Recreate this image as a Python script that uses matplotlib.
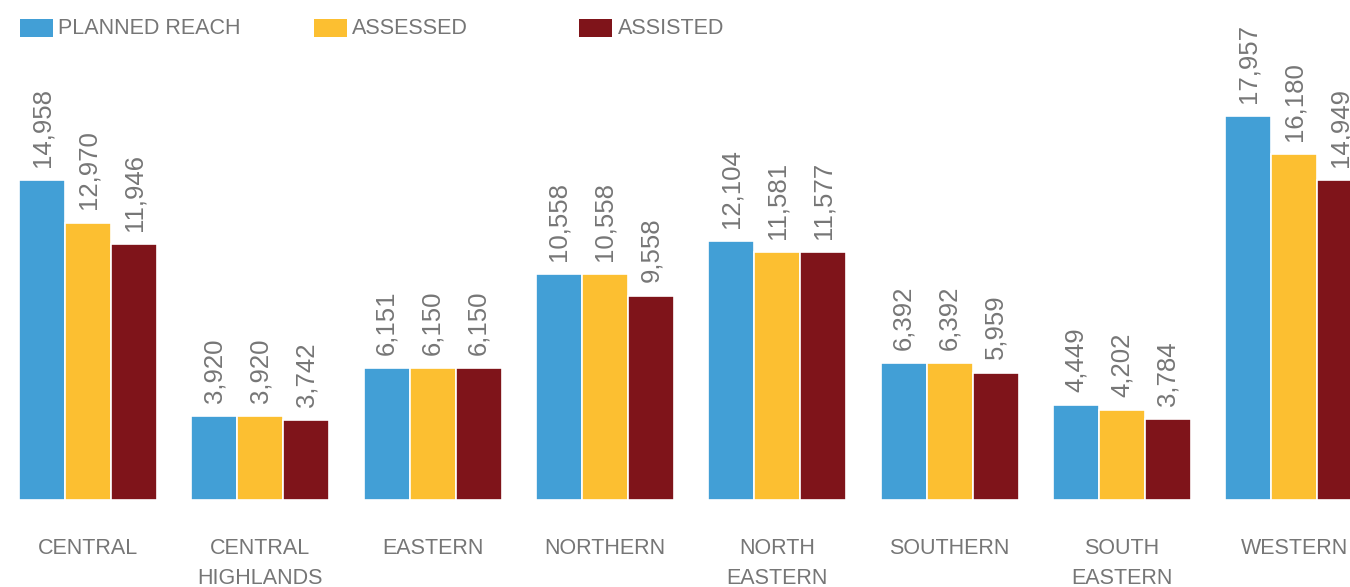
import matplotlib
matplotlib.use("Agg")
import matplotlib.pyplot as plt
import matplotlib.transforms as mtransforms
from matplotlib.patches import Rectangle
import numpy as np

categories = ["CENTRAL", "CENTRAL\nHIGHLANDS", "EASTERN", "NORTHERN", "NORTH\nEASTERN",
              "SOUTHERN", "SOUTH\nEASTERN", "WESTERN"]
planned_reach = [14958, 3920, 6151, 10558, 12104, 6392, 4449, 17957]
assessed = [12970, 3920, 6150, 10558, 11581, 6392, 4202, 16180]
assisted = [11946, 3742, 6150, 9558, 11577, 5959, 3784, 14949]
series_names = ["PLANNED REACH", "ASSESSED", "ASSISTED"]

colors = ["#429FD6", "#FCBF31", "#7F141A"]
text_color = "#767676"
plt.rcParams["font.family"] = ["Liberation Sans", "DejaVu Sans"]

W, H = 1350, 587
fig = plt.figure(figsize=(W / 100, H / 100), dpi=100)
base_px = 500
ax = fig.add_axes([0, (H - base_px) / H, 1, base_px / H])
pitch_px = 172.3
c0 = 88
ax.set_xlim(-c0 / pitch_px, (W - c0) / pitch_px)
px_per_unit = 320 / 14958
ax.set_ylim(0, base_px / px_per_unit)
ax.axis("off")

x = np.arange(len(categories))
bw = 46 / pitch_px
for i, (vals, col) in enumerate(zip([planned_reach, assessed, assisted], colors)):
    xs = x + (i - 1) * bw
    ax.bar(xs, vals, width=bw, color=col, edgecolor="white", linewidth=1.2)
    for xi, v in zip(xs, vals):
        ax.annotate(f"{v:,}", (xi, v), xytext=(0, 9.5), textcoords="offset points",
                    rotation=90, ha="center", va="bottom", fontsize=18.5, color=text_color)

lab_tr = mtransforms.blended_transform_factory(ax.transData, fig.transFigure)
for xi, lab in zip(x, categories):
    ax.text(xi, 1 - 538 / H, lab, transform=lab_tr,
            ha="center", va="top", fontsize=15.5, color=text_color, linespacing=1.55)

# legend
leg = [(20, 58), (314, 352), (579, 618)]
for (px, tx), name, col in zip(leg, series_names, colors):
    fig.patches.append(Rectangle((px / W, 1 - 37 / H), 33 / W, 18 / H,
                                 transform=fig.transFigure, facecolor=col, edgecolor="none"))
    fig.text(tx / W, 1 - 28 / H, name, ha="left", va="center", fontsize=15.5, color=text_color)

fig.savefig("out.png", dpi=100)
